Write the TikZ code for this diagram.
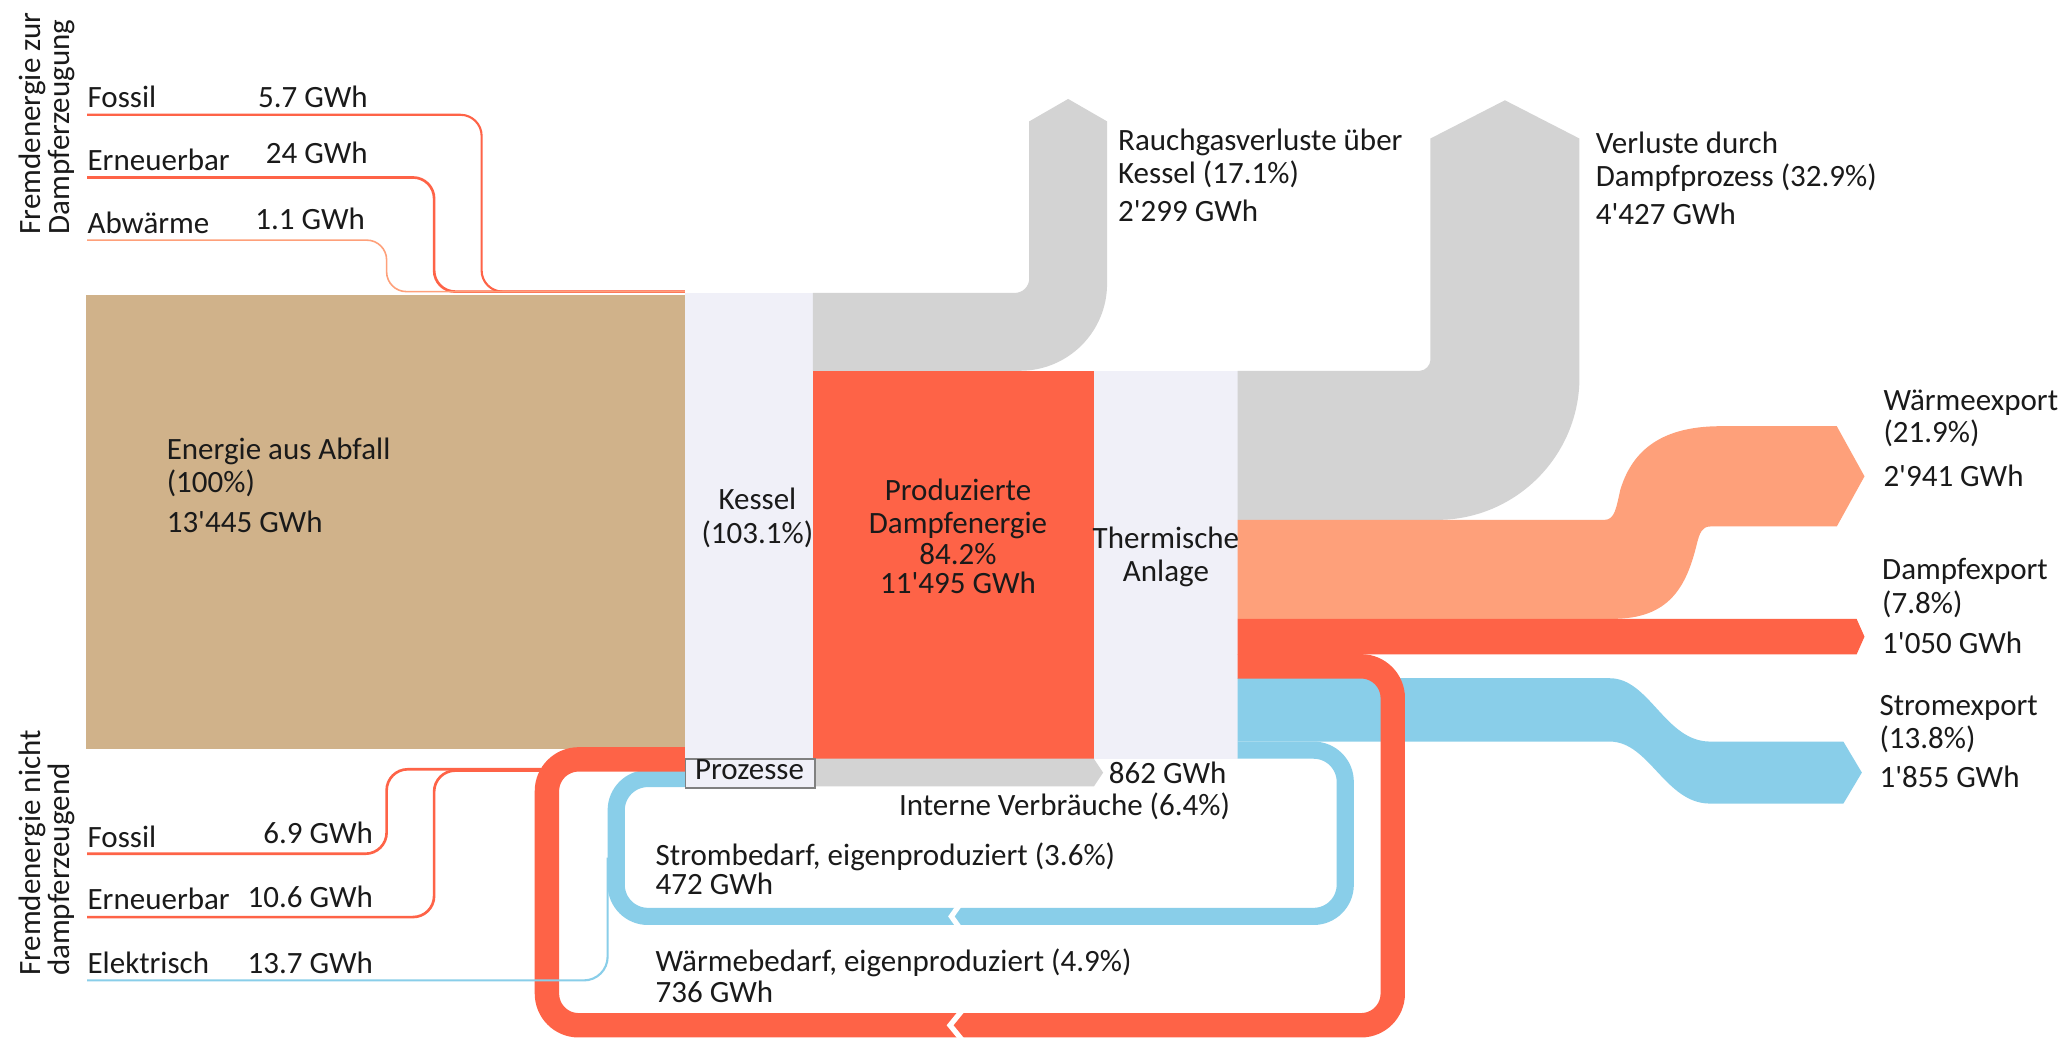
\documentclass[tikz,border=0pt]{standalone}
\usepackage{fontspec}
\setmainfont{Carlito}
\definecolor{cTan}{HTML}{D0B28A}
\definecolor{cRed}{HTML}{FE6347}
\definecolor{cSalmon}{HTML}{FEA07A}
\definecolor{cBlue}{HTML}{89CEE9}
\definecolor{cGray}{HTML}{D3D3D3}
\definecolor{cCol}{HTML}{F0F0F8}
\definecolor{cText}{HTML}{1A1A1A}
\newcommand{\ap}{\textquotesingle}
\tikzset{
  lbl/.style={anchor=base west, inner sep=0pt, text=cText, font=\fontsize{11.75}{12.5}\selectfont},
  lblc/.style={lbl, anchor=base},
  lble/.style={lbl, anchor=base east},
  rot/.style={rotate=90, anchor=north west, inner sep=0pt, align=left, text=cText, font=\fontsize{11.75}{11}\selectfont},
  thinred/.style={draw=cRed, line width=1pt, rounded corners=8pt},
  loopband/.style={line width=#1, rounded corners=12pt},
  notch/.style={draw=white, line width=2pt, line join=miter},
}
\begin{document}
\begin{tikzpicture}[x=0.5pt,y=-0.5pt]
\useasboundingbox (0,0) rectangle (1568,786);
\fill[white] (0,0) rectangle (1568,786);

% thin input lines (top)
\draw[thinred, line width=0.8pt] (66,87) -- (365,87) -- (365,221) -- (519,221);
\draw[thinred, line width=1pt] (66,134.5) -- (329,134.5) -- (329,221) -- (519,221);
\draw[draw=cSalmon, line width=0.6pt, rounded corners=7.5pt] (66,182) -- (293,182) -- (293,221) -- (519,221);

% main blocks
\node[fill=cTan, inner sep=0, minimum width=227pt, minimum height=172pt, anchor=north west] (abfall) at (65,223) {};
\node[fill=cCol, inner sep=0, minimum width=48.5pt, minimum height=176.5pt, anchor=north west] (kessel) at (519,222) {};

% gray loss 1
\fill[cGray] (616,222) -- (769,222) .. controls (775.1,222) and (780,217.1) .. (780,211)
  -- (780,92) -- (809.5,75) -- (839,92) -- (839,215)
  .. controls (839,251.5) and (809.5,281) .. (773,281) -- (616,281) -- cycle;

\node[fill=cRed, inner sep=0, minimum width=106.5pt, minimum height=147pt, anchor=north west] (dampf) at (616,281) {};
\node[fill=cCol, inner sep=0, minimum width=54.5pt, minimum height=147pt, anchor=north west] (therm) at (829,281) {};

% gray loss 2
\fill[cGray] (938,281) -- (1076,281) .. controls (1080.4,281) and (1084,276.6) .. (1084,273)
  -- (1084,105) -- (1140.5,76) -- (1197,105) -- (1197,286)
  .. controls (1197,345.6) and (1148.6,394) .. (1089,394) -- (938,394) -- cycle;

% Waermeexport
\fill[cSalmon] (938,394) -- (1216,394) .. controls (1224,394) and (1225,384) .. (1228,371)
  .. controls (1236,345) and (1255,323) .. (1304,323) -- (1392,323) -- (1413,361) -- (1392,399)
  -- (1296,399) .. controls (1290,399) and (1288,404) .. (1286,412)
  .. controls (1278,445) and (1265,469) .. (1222,469) -- (938,469) -- cycle;

% Dampfexport
\fill[cRed] (938,469) -- (1407,469) -- (1413,482.5) -- (1407,496) -- (938,496) -- cycle;

% Stromexport
\fill[cBlue] (938,514) -- (1220,514) .. controls (1250,514) and (1262,562) .. (1296,562)
  -- (1397,562) -- (1411,585.5) -- (1397,609) -- (1296,609)
  .. controls (1262,609) and (1250,562) .. (1220,562) -- (938,562) -- cycle;

% bottom thin red inputs
\draw[thinred] (66,647) -- (293,647) -- (293,583) -- (410,583);
\draw[thinred] (66,695) -- (329,695) -- (329,584) -- (410,584);

% blue loop (Strombedarf)
\draw[cBlue, loopband=6.5pt] (938,568.5) -- (1019.5,568.5) -- (1019.5,694.5) -- (467,694.5) -- (467,590) -- (519,590);
% red loop (Waermebedarf)
\draw[cRed, loopband=9.25pt] (938,505) -- (1055.5,505) -- (1055.5,777) -- (414.5,777) -- (414.5,575.5) -- (519,575.5);

% Elektrisch thin line
\draw[draw=cBlue, line width=0.8pt, rounded corners=9pt] (66,743) -- (460.5,743) -- (460.5,650);

% direction notches
\draw[notch] (727,686) -- (721,694.5) -- (727,703);
\draw[notch] (729,766) -- (720,777) -- (729,788);

% internal consumption
\fill[cGray] (617,575) -- (829,575) -- (836,585.5) -- (829,596) -- (617,596) -- cycle;
\node[draw=gray, fill=cCol, line width=0.6pt, inner sep=0, minimum width=49pt, minimum height=11pt, anchor=north west] (proz) at (519,574.5) {};
\node[lblc] (prozt) at (568,591) {Prozesse};

% rotated group labels
\node[rot] (gtop) at (14,178) {Fremdenergie zur\\Dampferzeugung};
\node[rot] (gbot) at (14,740) {Fremdenergie nicht\\dampferzeugend};

% left labels
\node[lbl] (f1) at (66,81.5) {Fossil};
\node[lble] (f1v) at (279,81.5) {5.7 GWh};
\node[lbl] (e1) at (66,129) {Erneuerbar};
\node[lble] (e1v) at (279,124) {24 GWh};
\node[lbl] (a1) at (66,177) {Abwärme};
\node[lble] (a1v) at (277,174) {1.1 GWh};
\node[lbl] (f2) at (66,642) {Fossil};
\node[lble] (f2v) at (283,639) {6.9 GWh};
\node[lbl] (e2) at (66,689) {Erneuerbar};
\node[lble] (e2v) at (283,688) {10.6 GWh};
\node[lbl] (el) at (66,737.5) {Elektrisch};
\node[lble] (elv) at (283,737.5) {13.7 GWh};

% block labels
\node[lbl] (ab1) at (126,348) {Energie aus Abfall};
\node[lbl] (ab2) at (126,373.4) {(100\%)};
\node[lbl] (ab3) at (126,403.7) {13\ap 445 GWh};
\node[lblc] (k1) at (574,386.5) {Kessel};
\node[lblc] (k2) at (574,412) {(103.1\%)};
\node[lblc] (d1) at (726,379) {Produzierte};
\node[lblc] (d2) at (726,404) {Dampfenergie};
\node[lblc] (d3) at (726,428) {84.2\%};
\node[lblc] (d4) at (726,450) {11\ap 495 GWh};
\node[lblc] (t1) at (883.6,416) {Thermische};
\node[lblc] (t2) at (883.6,441) {Anlage};

% loss labels
\node[lbl] (r1) at (847,113.7) {Rauchgasverluste über};
\node[lbl] (r2) at (847,139) {Kessel (17.1\%)};
\node[lbl] (r3) at (847,168) {2\ap 299 GWh};
\node[lbl] (v1) at (1209,116) {Verluste durch};
\node[lbl] (v2) at (1209,141.5) {Dampfprozess (32.9\%)};
\node[lbl] (v3) at (1209,170.5) {4\ap 427 GWh};

% export labels
\node[lbl] (w1) at (1427,311) {Wärmeexport};
\node[lbl] (w2) at (1427,335.5) {(21.9\%)};
\node[lbl] (w3) at (1427,369) {2\ap 941 GWh};
\node[lbl] (de1) at (1426,439.5) {Dampfexport};
\node[lbl] (de2) at (1426,465) {(7.8\%)};
\node[lbl] (de3) at (1426,495) {1\ap 050 GWh};
\node[lbl] (s1) at (1424,542) {Stromexport};
\node[lbl] (s2) at (1424,567) {(13.8\%)};
\node[lbl] (s3) at (1424,597) {1\ap 855 GWh};

% internal labels
\node[lbl] (i1) at (840,593.6) {862 GWh};
\node[lbl] (i2) at (681,617.7) {Interne Verbräuche (6.4\%)};
\node[lbl] (sb1) at (496.5,655.6) {Strombedarf, eigenproduziert (3.6\%)};
\node[lbl] (sb2) at (496.5,677.6) {472 GWh};
\node[lbl] (wb1) at (496.5,736.4) {Wärmebedarf, eigenproduziert (4.9\%)};
\node[lbl] (wb2) at (496.5,760) {736 GWh};
\end{tikzpicture}
\end{document}
